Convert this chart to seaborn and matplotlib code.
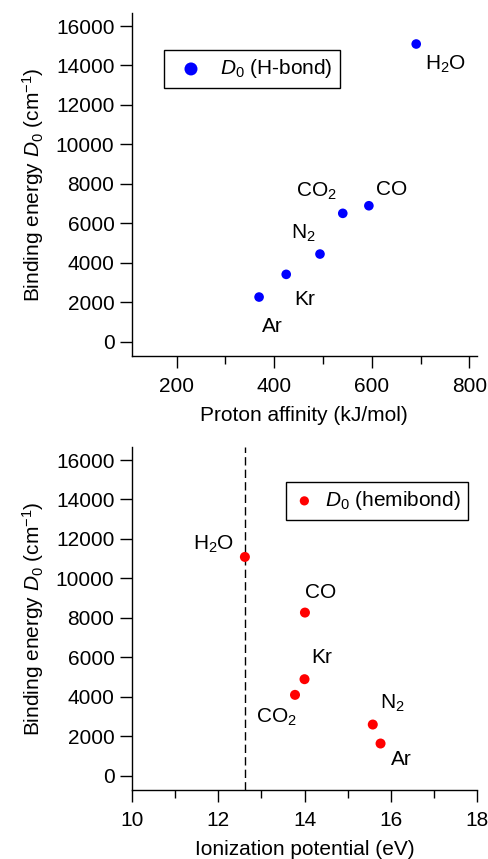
import matplotlib
matplotlib.use("Agg")
import matplotlib.pyplot as plt
import seaborn as sns
from matplotlib.ticker import MultipleLocator

# ---- data ----
species = ["Ar", "Kr", "N$_2$", "CO$_2$", "CO", "H$_2$O"]
proton_affinity = [369, 424.6, 493.8, 540.5, 594, 691]
d0_hbond = [2266, 3416, 4445, 6508, 6893, 15089]

species_h = ["H$_2$O", "CO", "Kr", "CO$_2$", "N$_2$", "Ar"]
ionization_potential = [12.62, 14.01, 14.0, 13.78, 15.58, 15.76]
d0_hemibond = [11089, 8270, 4895, 4101, 2598, 1636]
h2o_ip = 12.62

yticks = [0, 2000, 4000, 6000, 8000, 10000, 12000, 14000, 16000]

sns.set_style("ticks")
plt.rcParams["font.family"] = ["Liberation Sans", "DejaVu Sans"]
plt.rcParams["mathtext.fontset"] = "custom"
plt.rcParams["mathtext.rm"] = "Liberation Sans"
plt.rcParams["mathtext.it"] = "Liberation Sans:italic"
plt.rcParams["lines.scale_dashes"] = False
plt.rcParams["axes.linewidth"] = 1.0
plt.rcParams["text.color"] = "black"
plt.rcParams["axes.labelcolor"] = "black"
plt.rcParams["xtick.color"] = "black"
plt.rcParams["ytick.color"] = "black"
plt.rcParams["axes.edgecolor"] = "black"
fs = 15

fig = plt.figure(figsize=(4.88, 8.59), dpi=100)
ax1 = fig.add_axes([0.2699, 0.5856, 0.7070, 0.3996])
ax2 = fig.add_axes([0.2699, 0.0803, 0.7082, 0.3997])

def style(ax):
    sns.despine(ax=ax)
    for s in ("left", "bottom"):
        ax.spines[s].set_color("black")
        ax.spines[s].set_linewidth(1.0)
    ax.tick_params(axis="both", which="major", direction="out", length=8.4,
                   width=1.0, color="black", labelsize=fs, labelcolor="black")
    ax.tick_params(axis="x", which="minor", direction="out", length=5.5,
                   width=1.0, color="black")
    ax.tick_params(axis="y", pad=4)
    ax.tick_params(axis="x", pad=7)
    ax.set_yticks(yticks)
    ax.set_ylim(-720, 16675)
    ax.set_ylabel("Binding energy $\\mathit{D}_0$ (cm$^{-1}$)", fontsize=fs, labelpad=7,
                  color="black")

def frame(leg):
    f = leg.get_frame()
    f.set_edgecolor("black")
    f.set_linewidth(1.0)
    f.set_alpha(1)
    for t in leg.get_texts():
        t.set_color("black")

# ---- top panel ----
sns.scatterplot(x=proton_affinity, y=d0_hbond, ax=ax1, color="#0000ff", s=48,
                edgecolor="none", linewidth=0, label="$\\mathit{D}_0$ (H-bond)")
style(ax1)
ax1.set_xlim(108, 815)
ax1.xaxis.set_major_locator(MultipleLocator(200))
ax1.xaxis.set_minor_locator(MultipleLocator(100))
ax1.set_xlabel("Proton affinity (kJ/mol)", fontsize=fs, labelpad=7, color="black")

offs1 = [(2, -21, "left"), (6, -18, "left"), (-21, 15, "left"),
         (-4.5, 16, "right"), (5, 12, "left"), (6, -15, "left")]
for name, x, y, (dx, dy, ha) in zip(species, proton_affinity, d0_hbond, offs1):
    ax1.annotate(name, (x, y), xytext=(dx, dy), textcoords="offset points",
                 ha=ha, va="center", fontsize=fs, color="black")

leg1 = ax1.legend(loc="upper left", bbox_to_anchor=(0.0945, 0.891), borderaxespad=0,
                  fontsize=fs, frameon=True, fancybox=False, markerscale=1.35,
                  handletextpad=0.46, borderpad=0.35, handlelength=1.86)
frame(leg1)

# ---- bottom panel ----
ax2.axvline(h2o_ip, color="black", lw=1.0, ls=(0, (6, 3)), zorder=1)
sns.scatterplot(x=ionization_potential, y=d0_hemibond, ax=ax2, color="#ff0000", s=52,
                edgecolor="none", linewidth=0, label="$\\mathit{D}_0$ (hemibond)", zorder=3)
style(ax2)
ax2.set_xlim(10, 18)
ax2.xaxis.set_major_locator(MultipleLocator(2))
ax2.xaxis.set_minor_locator(MultipleLocator(1))
ax2.set_xlabel("Ionization potential (eV)", fontsize=fs, labelpad=7, color="black")

offs2 = [(-7.7, 9, "right"), (0, 14.7, "left"), (4.6, 15.3, "left"),
         (1, -16.3, "right"), (5.3, 15.4, "left"), (7.5, -11.7, "left")]
for name, x, y, (dx, dy, ha) in zip(species_h, ionization_potential, d0_hemibond, offs2):
    ax2.annotate(name, (x, y), xytext=(dx, dy), textcoords="offset points",
                 ha=ha, va="center", fontsize=fs, color="black")

leg2 = ax2.legend(loc="upper left", bbox_to_anchor=(0.4456, 0.897), borderaxespad=0,
                  fontsize=fs, frameon=True, fancybox=False, markerscale=0.92,
                  handletextpad=0.44, borderpad=0.35, handlelength=1.09)
frame(leg2)

fig.savefig("out.png", dpi=100)
